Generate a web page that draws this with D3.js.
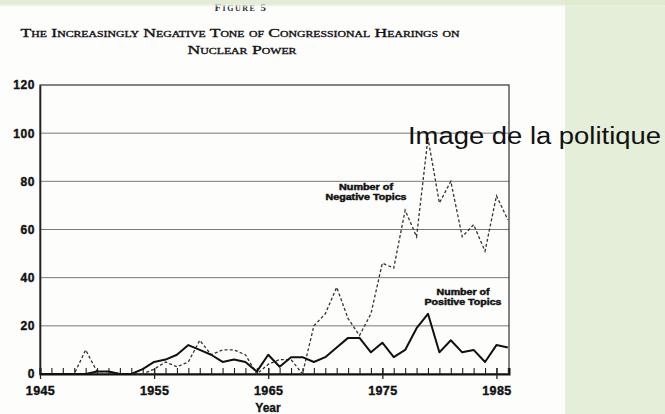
<!DOCTYPE html>
<html><head><meta charset="utf-8">
<script src="https://cdn.jsdelivr.net/npm/d3@7"></script>
<style>
html,body{margin:0;padding:0;background:#fff;}
svg{display:block;}
</style></head>
<body>
<svg id="c" width="665" height="414"></svg>
<script>
const years = d3.range(1945, 1987);
const positiveTopics = [0,0,0,0,0,1,1,0,0,2,5,6,8,12,10,8,5,6,5,1,8,3,7,7,5,7,11,15,15,9,13,7,10,19,25,9,14,9,10,5,12,11];
const negativeTopics = [0,0,0,0,10,1,1,0,0,0,2,5,3,5,14,8,10,10,8,0,4,6,6,0,20,25,36,23,16,25,46,44,68,57,98,71,80,57,62,51,74,64];
const yTicks = [0,20,40,60,80,100,120];
const xTickLabels = [1945,1955,1965,1975,1985];

const svg = d3.select("#c");
// backgrounds
svg.append("rect").attr("x",0).attr("y",0).attr("width",665).attr("height",414).attr("fill","#fdfdfc");
svg.append("rect").attr("x",565).attr("y",0).attr("width",100).attr("height",414).attr("fill","#e4eed8");
const g0 = svg.append("defs").append("linearGradient").attr("id","topband").attr("x1",0).attr("x2",0).attr("y1",0).attr("y2",1);
g0.append("stop").attr("offset","0").attr("stop-color","#e0eacf");
g0.append("stop").attr("offset","1").attr("stop-color","#fdfdfc").attr("stop-opacity",0);

// figure label (partly hidden under the top band, as in the scan)
svg.append("text").attr("x",241).attr("y",11).attr("text-anchor","middle")
  .attr("font-family","Liberation Serif").attr("font-size",11).attr("font-weight","bold")
  .attr("font-variant","small-caps").attr("letter-spacing",1.5).attr("fill","#333").text("Figure 5");
svg.append("rect").attr("x",0).attr("y",0).attr("width",665).attr("height",4.5).attr("fill","#e0eacf").attr("opacity",0.9);
svg.append("rect").attr("x",0).attr("y",4.5).attr("width",665).attr("height",3).attr("fill","url(#topband)");

// title
const tf = {family:"Liberation Serif", size:13.5};
svg.append("text").attr("x",240).attr("y",37).attr("text-anchor","middle")
  .attr("font-family",tf.family).attr("font-size",tf.size).attr("font-variant","small-caps")
  .attr("fill","#111").attr("stroke","#111").attr("stroke-width",0.35)
  .attr("textLength",439).attr("lengthAdjust","spacingAndGlyphs")
  .text("The Increasingly Negative Tone of Congressional Hearings on");
svg.append("text").attr("x",242).attr("y",54).attr("text-anchor","middle")
  .attr("font-family",tf.family).attr("font-size",tf.size).attr("font-variant","small-caps")
  .attr("fill","#111").attr("stroke","#111").attr("stroke-width",0.35)
  .attr("textLength",109).attr("lengthAdjust","spacingAndGlyphs")
  .text("Nuclear Power");

const x = d3.scaleLinear().domain([1945, 1986.1]).range([40, 509]);
const y = d3.scaleLinear().domain([0, 120]).range([374, 85]);

// gridlines
svg.append("g").selectAll("line").data(yTicks.filter(v=>v>0 && v<120)).join("line")
  .attr("x1",x(1945)).attr("x2",x(1986.1)).attr("y1",d=>y(d)).attr("y2",d=>y(d))
  .attr("stroke","#6a6a6a").attr("stroke-width",0.9);

// frame
svg.append("rect").attr("x",x(1945)).attr("y",y(120)).attr("width",x(1986.1)-x(1945)).attr("height",y(0)-y(120))
  .attr("fill","none").attr("stroke","#333").attr("stroke-width",1.2);

// y axis labels
const yAxis = d3.axisLeft(y).tickValues(yTicks).tickSize(0).tickPadding(5);
const ya = svg.append("g").attr("transform",`translate(${x(1945)},0)`).call(yAxis);
ya.select(".domain").attr("stroke","#222").attr("stroke-width",1.6);
ya.selectAll("text").attr("font-family","Liberation Sans").attr("font-weight","bold")
  .attr("font-size",12).attr("letter-spacing",0.6).attr("fill","#111")
  .attr("stroke","#111").attr("stroke-width",0.4);

// x axis
const xAxisMinor = d3.axisTop(x).tickValues(years.slice(1)).tickSize(6).tickFormat("");
const xm = svg.append("g").attr("transform",`translate(0,${y(0)})`).call(xAxisMinor);
xm.select(".domain").attr("stroke","#111").attr("stroke-width",2);
xm.selectAll(".tick line").attr("stroke","#222").attr("stroke-width",1.1);
const xAxisMajor = d3.axisBottom(x).tickValues(xTickLabels).tickSize(5).tickPadding(7).tickFormat(d3.format("d"));
const xM = svg.append("g").attr("transform",`translate(0,${y(0)})`).call(xAxisMajor);
xM.select(".domain").remove();
xM.selectAll(".tick line").attr("stroke","#222").attr("stroke-width",1.3).attr("y1",-6);
xM.selectAll("text").attr("font-family","Liberation Sans").attr("font-weight","bold")
  .attr("font-size",12.5).attr("letter-spacing",0.4).attr("fill","#111")
  .attr("stroke","#111").attr("stroke-width",0.4);
svg.append("text").attr("x",268).attr("y",412).attr("text-anchor","middle")
  .attr("font-family","Liberation Sans").attr("font-weight","bold").attr("font-size",12)
  .attr("fill","#111").attr("stroke","#111").attr("stroke-width",0.3).text("Year");

// lines
const line = d3.line().x((d,i)=>x(years[i])).y(d=>y(d));
svg.append("path").datum(negativeTopics).attr("d",line).attr("fill","none")
  .attr("stroke","#333").attr("stroke-width",1.3).attr("stroke-dasharray","3,2.2");
svg.append("path").datum(positiveTopics).attr("d",line).attr("fill","none")
  .attr("stroke","#111").attr("stroke-width",2).attr("stroke-linejoin","round");

// series labels
function lab(cx, y1, t1, w1, t2, w2){
  const common = s => s.attr("text-anchor","middle").attr("font-family","Liberation Sans")
    .attr("font-weight","bold").attr("font-size",8.5).attr("fill","#111")
    .attr("stroke","#111").attr("stroke-width",0.45).attr("lengthAdjust","spacingAndGlyphs");
  svg.append("text").attr("x",cx).attr("y",y1).call(common).attr("textLength",w1).text(t1);
  svg.append("text").attr("x",cx).attr("y",y1+10).call(common).attr("textLength",w2).text(t2);
}
lab(366, 190, "Number of", 54, "Negative Topics", 81);
lab(463, 295, "Number of", 53, "Positive Topics", 77);

// overlay caption
svg.append("text").attr("x",408).attr("y",144).attr("font-family","Liberation Sans")
  .attr("font-size",23.5).attr("fill","#111").attr("textLength",253).attr("lengthAdjust","spacingAndGlyphs")
  .text("Image de la politique");
</script>
</body></html>
